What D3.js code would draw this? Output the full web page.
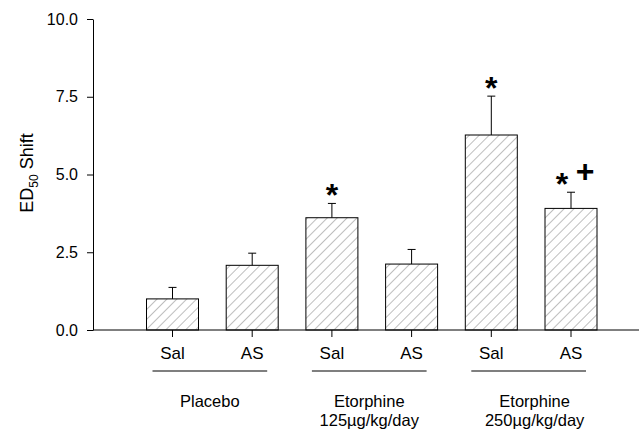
<!DOCTYPE html>
<html>
<head>
    <meta charset="utf-8">
    <title>ED50 Shift</title>
    <script src="https://d3js.org/d3.v7.min.js"></script>
    <style>
        body { margin: 0; padding: 0; background: #fff; }
        text { font-family: "Liberation Sans", Arial, sans-serif; fill: #000; }
    </style>
</head>
<body>
    <div id="chart"></div>

    <script>
// bar data
const conditions = ["Sal", "AS", "Sal", "AS", "Sal", "AS"];
const means = [1.0, 2.08, 3.61, 2.12, 6.27, 3.91];
const errors = [0.37, 0.39, 0.46, 0.47, 1.25, 0.52];
const marks = ["", "", "*", "", "*", "*+"];

// groups: label lines, first/last bar index
const groupLabels = [["Placebo"], ["Etorphine", "125\u00b5g/kg/day"], ["Etorphine", "250\u00b5g/kg/day"]];
const groupBars = [[0, 1], [2, 3], [4, 5]];

const yTicks = [0, 2.5, 5, 7.5, 10];

const width = 639;
const height = 431;

const svg = d3.select("#chart")
  .append("svg")
    .attr("width", width)
    .attr("height", height);

const y = d3.scaleLinear().domain([0, 10]).range([330, 19]);
const x = d3.scalePoint().domain(d3.range(conditions.length)).range([172.5, 571]);
const barW = 52;

// hatch pattern
const pat = svg.append("defs").append("pattern")
    .attr("id", "hatch")
    .attr("patternUnits", "userSpaceOnUse")
    .attr("width", 7)
    .attr("height", 7)
    .attr("patternTransform", "rotate(45)");
pat.append("line")
    .attr("x1", 0).attr("y1", 0).attr("x2", 0).attr("y2", 7)
    .attr("stroke", "#444")
    .attr("stroke-width", 0.7);

// y axis
const yAxis = d3.axisLeft(y)
    .tickValues(yTicks)
    .tickFormat(d3.format(".1f"))
    .tickSize(6)
    .tickSizeOuter(0);

const gy = svg.append("g")
    .attr("transform", "translate(93,0)")
    .call(yAxis);
gy.select(".domain").attr("stroke", "#000");
gy.selectAll(".tick line").attr("stroke", "#000");
gy.selectAll(".tick text")
    .attr("x", -15)
    .style("font-size", "16px")
    .style("font-family", "Liberation Sans, Arial, sans-serif");

// x axis line
svg.append("line")
    .attr("x1", 93).attr("x2", width)
    .attr("y1", y(0)).attr("y2", y(0))
    .attr("stroke", "#000");

// x ticks
svg.selectAll(".xtick")
  .data(conditions)
  .join("line")
    .attr("x1", (d, i) => x(i)).attr("x2", (d, i) => x(i))
    .attr("y1", y(0)).attr("y2", y(0) + 7)
    .attr("stroke", "#000");

// error bars (upper only)
svg.selectAll(".err")
  .data(means)
  .join("line")
    .attr("x1", (d, i) => x(i)).attr("x2", (d, i) => x(i))
    .attr("y1", d => y(d))
    .attr("y2", (d, i) => y(d + errors[i]))
    .attr("stroke", "#000");
svg.selectAll(".cap")
  .data(means)
  .join("line")
    .attr("x1", (d, i) => x(i) - 4).attr("x2", (d, i) => x(i) + 4)
    .attr("y1", (d, i) => y(d + errors[i]))
    .attr("y2", (d, i) => y(d + errors[i]))
    .attr("stroke", "#000");

// bars
svg.selectAll(".bar")
  .data(means)
  .join("rect")
    .attr("x", (d, i) => x(i) - barW / 2)
    .attr("y", d => y(d))
    .attr("width", barW)
    .attr("height", d => y(0) - y(d))
    .attr("fill", "url(#hatch)")
    .attr("stroke", "#000")
    .attr("stroke-width", 1);

// significance marks
marks.forEach((m, i) => {
  if (!m) return;
  const top = y(means[i] + errors[i]);
  svg.append("text")
      .attr("x", x(i) - (m.length > 1 ? 9 : 0))
      .attr("y", top + 3)
      .attr("text-anchor", "middle")
      .style("font-size", "32px")
      .style("font-weight", "bold")
      .text("*");
  if (m.indexOf("+") >= 0) {
    svg.append("text")
        .attr("x", x(i) + 14)
        .attr("y", top - 10)
        .attr("text-anchor", "middle")
        .style("font-size", "32px")
        .style("font-weight", "bold")
        .text("+");
  }
});

// condition labels
svg.selectAll(".cond")
  .data(conditions)
  .join("text")
    .attr("x", (d, i) => x(i))
    .attr("y", 359)
    .attr("text-anchor", "middle")
    .style("font-size", "17px")
    .text(d => d);

// group lines and labels
groupBars.forEach((b, gi) => {
  const x0 = x(b[0]) - 20;
  const x1 = x(b[1]) + 15;
  svg.append("line")
      .attr("x1", x0).attr("x2", x1)
      .attr("y1", 371).attr("y2", 371)
      .attr("stroke", "#000")
      .attr("stroke-width", 1.2);
  const t = svg.append("text")
      .attr("x", (x0 + x1) / 2)
      .attr("y", 407)
      .attr("text-anchor", "middle")
      .style("font-size", "16.5px");
  groupLabels[gi].forEach((line, li) => {
    t.append("tspan")
        .attr("x", (x0 + x1) / 2 + (gi === 2 ? 6 : 0))
        .attr("dy", li === 0 ? 0 : 19)
        .text(line);
  });
});

// y axis title
const yt = svg.append("text")
    .attr("transform", "translate(33,173) rotate(-90)")
    .attr("text-anchor", "middle")
    .style("font-size", "18px");
yt.append("tspan").text("ED");
yt.append("tspan").attr("dy", 5).style("font-size", "12px").text("50");
yt.append("tspan").attr("dy", -5).text(" Shift");
    </script>
</body>
</html>
